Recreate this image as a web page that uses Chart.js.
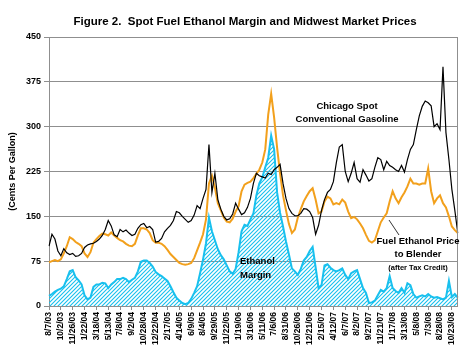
<!DOCTYPE html>
<html><head><meta charset="utf-8">
<script src="https://cdn.jsdelivr.net/npm/chart.js@4"></script>
<style>html,body{margin:0;padding:0;background:#fff}</style>
</head><body>
<canvas id="c" width="470" height="353" style="display:block;width:470px;height:353px"></canvas>
<script>
const tickLabels = ['8/7/03','10/2/03','11/26/03','1/22/04','3/18/04','5/13/04','7/8/04','9/2/04','10/28/04','12/22/04','2/17/05','4/14/05','6/9/05','8/4/05','9/29/05','11/22/05','1/19/06','3/16/06','5/11/06','7/6/06','8/31/06','10/26/06','12/21/06','2/15/07','4/12/07','6/7/07','8/2/07','9/27/07','11/21/07','1/17/08','3/13/08','5/8/08','7/3/08','8/28/08','10/23/08'];

const gasoline = [
100,120,112,92,84,96,89,86,88,83,
84,88,98,102,104,105,108,112,118,128,
143,134,119,116,128,124,127,122,118,120,
130,136,138,131,133,128,107,108,113,124,
130,135,143,158,156,150,145,140,143,152,
168,163,180,195,270,190,222,178,162,150,
144,146,154,172,162,153,156,165,180,205,
222,218,216,214,222,220,228,232,237,205,
180,163,155,151,151,155,163,162,158,148,
120,135,160,178,190,195,208,240,266,270,
225,208,222,240,213,207,228,219,209,213,
232,248,245,228,242,235,232,228,225,235,
224,245,262,270,295,318,334,343,340,335,
300,305,295,400,290,245,195,160,122];

const ethanolPrice = [
73,75,77,75,78,88,100,115,112,107,
104,100,88,82,90,106,112,117,121,120,
118,123,118,114,110,108,104,101,100,104,
118,130,130,128,122,110,106,106,104,100,
94,87,82,77,72,70,69,70,72,80,
93,106,120,145,205,218,198,172,160,148,
141,140,146,158,167,192,203,206,208,214,
221,228,240,262,320,355,315,265,222,185,
160,137,122,128,148,162,175,184,192,197,
178,155,158,175,183,180,170,172,170,178,
173,158,147,149,145,138,130,119,109,106,
110,125,140,148,155,175,192,180,172,182,
190,200,213,205,205,203,205,205,230,192,
172,180,185,172,165,150,133,127,122];

const ethanolMargin = [
17,20,24,27,29,33,45,58,60,48,
43,36,18,11,14,32,36,36,39,38,
30,36,40,45,45,47,45,40,44,47,
58,74,76,76,72,66,57,53,50,46,
42,33,23,14,9,5,3,5,12,22,
33,55,78,105,148,125,110,95,85,78,
68,58,54,62,90,125,136,134,145,155,
185,205,215,232,248,285,262,190,156,133,
108,86,63,58,52,62,76,82,92,99,
65,30,35,68,70,64,60,58,60,63,
52,45,55,58,60,45,30,22,5,6,
9,18,27,24,30,50,30,25,22,30,
22,38,35,20,14,16,18,16,20,16,
14,15,13,11,14,42,15,20,14];

const yTickValues = [0,75,150,225,300,375,450];
const titleText = 'Figure 2.  Spot Fuel Ethanol Margin and Midwest Market Prices';
const yAxisTitle = '(Cents Per Gallon)';

const FONT = 'Arial, "Liberation Sans", sans-serif';
const GRID = '#8f8f8f';
const BLUE = '#18c0ee';
const ORANGE = '#f2a01c';

const labels = gasoline.map((_, i) => (i % 4 === 0 && tickLabels[i / 4]) ? tickLabels[i / 4] : '');

function hatch(color) {
  const c = document.createElement('canvas');
  c.width = 4; c.height = 4;
  const g = c.getContext('2d');
  g.strokeStyle = color; g.lineWidth = 1.1;
  g.beginPath();
  g.moveTo(0, 4); g.lineTo(4, 0);
  g.moveTo(-1, 1); g.lineTo(1, -1);
  g.moveTo(3, 5); g.lineTo(5, 3);
  g.stroke();
  return g.createPattern(c, 'repeat');
}

const annot = {
  id: 'annot',
  afterDraw(chart) {
    const { ctx, chartArea: a } = chart;
    ctx.save();
    ctx.strokeStyle = GRID; ctx.lineWidth = 1;
    ctx.beginPath(); ctx.moveTo(Math.round(a.right) - 0.5, a.top); ctx.lineTo(Math.round(a.right) - 0.5, a.bottom); ctx.stroke();
    ctx.fillStyle = '#000';
    ctx.textBaseline = 'middle';
    ctx.textAlign = 'center';
    ctx.font = 'bold 11.5px ' + FONT;
    ctx.fillText(titleText, 245, 22);
    ctx.font = 'bold 9.5px ' + FONT;
    ctx.fillText('Chicago Spot', 347, 106);
    ctx.fillText('Conventional Gasoline', 347, 119);
    ctx.fillText('Fuel Ethanol Price', 418, 241);
    ctx.fillText('to Blender', 418, 254);
    ctx.font = 'bold 7.5px ' + FONT;
    ctx.fillText('(after Tax Credit)', 418, 268);
    ctx.textAlign = 'left';
    ctx.font = 'bold 9.5px ' + FONT;
    ctx.fillText('Ethanol', 240, 261);
    ctx.fillText('Margin', 240, 275);
    ctx.strokeStyle = '#000'; ctx.lineWidth = 0.8;
    ctx.beginPath(); ctx.moveTo(399, 235); ctx.lineTo(389, 220); ctx.stroke();
    ctx.restore();
  }
};

Chart.defaults.font.family = FONT;
Chart.defaults.color = '#000';

new Chart(document.getElementById('c'), {
  type: 'line',
  data: {
    labels: labels,
    datasets: [
      { label: 'Chicago Spot Conventional Gasoline', data: gasoline, borderColor: '#000', borderWidth: 1.2, pointRadius: 0, tension: 0, fill: false, order: 0 },
      { label: 'Fuel Ethanol Price to Blender', data: ethanolPrice, borderColor: ORANGE, borderWidth: 2, pointRadius: 0, tension: 0, fill: false, order: 1 },
      { label: 'Ethanol Margin', data: ethanolMargin, borderColor: BLUE, borderWidth: 2, pointRadius: 0, tension: 0, fill: 'origin', backgroundColor: hatch(BLUE), order: 2 }
    ]
  },
  options: {
    responsive: false,
    animation: false,
    devicePixelRatio: 1,
    layout: { padding: { top: 37, right: 11, left: 0, bottom: 0 } },
    plugins: { legend: { display: false }, tooltip: { enabled: false }, title: { display: false } },
    scales: {
      x: {
        type: 'category',
        offset: false,
        border: { display: true, color: GRID, width: 1 },
        grid: { drawOnChartArea: false, drawTicks: true, tickLength: 4,
          color: (c) => (c.index % 4 === 0 ? GRID : 'rgba(0,0,0,0)') },
        ticks: { autoSkip: false, maxRotation: 90, minRotation: 90, padding: 2,
          font: { size: 8.5, weight: 'bold' }, color: '#000' },
        afterFit(s) { s.height = 47; }
      },
      y: {
        min: 0, max: 450,
        afterBuildTicks(s) { s.ticks = yTickValues.map(v => ({ value: v })); },
        border: { display: true, color: GRID, width: 1 },
        grid: { color: GRID, lineWidth: 1, tickLength: 5 },
        ticks: { padding: 3, font: { size: 9, weight: 'bold' }, color: '#000' },
        title: { display: true, text: yAxisTitle, font: { size: 9, weight: 'bold' }, color: '#000', padding: { top: 7, bottom: 0 } },
        afterFit(s) { s.width = 49; }
      }
    }
  },
  plugins: [annot]
});
</script>
</body></html>
